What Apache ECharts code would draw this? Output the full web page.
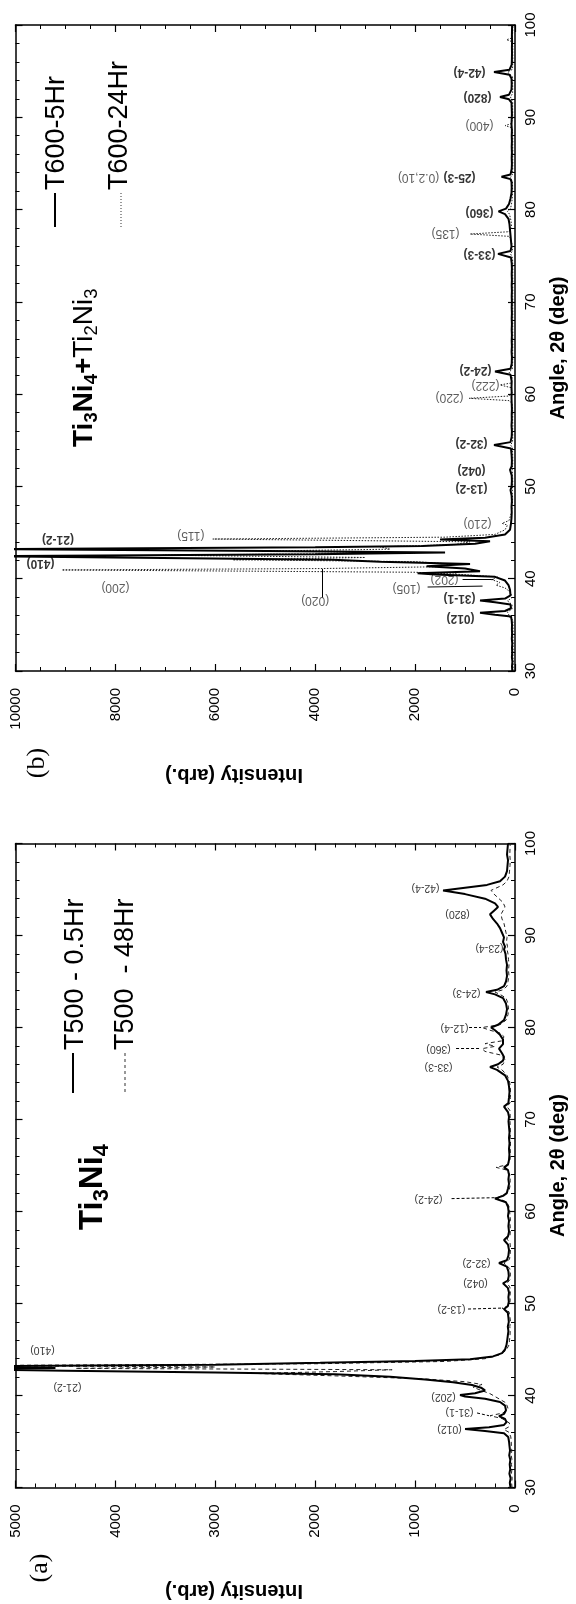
<!DOCTYPE html>
<html>
<head>
<meta charset="utf-8">
<script src="https://cdn.jsdelivr.net/npm/echarts@6/dist/echarts.min.js"></script>
<style>
  html, body { margin: 0; padding: 0; background: #fff; }
  #chart { width: 576px; height: 1604px; }
</style>
</head>
<body>
<div id="chart"></div>
<script>
// XRD patterns, [angle 2θ, intensity]. Figure is drawn rotated 90° CCW like the source scan.
const t500_05 = [
  [30,45],[30.5,52],[31,44],[31.5,56],[32,48],[32.5,53],[33,47],[33.5,58],[34,50],[34.5,55],[35,60],[35.5,68],
  [35.9,110],[36.15,300],[36.35,500],[36.55,260],[36.8,110],[37.1,85],[37.45,100],[37.75,160],[38.0,110],[38.4,90],
  [38.9,100],[39.3,150],[39.65,300],[39.9,500],[40.05,550],[40.25,400],[40.55,300],[40.85,340],[41.15,430],[41.45,620],
  [41.75,900],[42.05,1250],[42.3,1800],[42.5,3000],[42.7,4500],[42.85,5600],[43.0,4600],[43.15,5600],[43.35,3000],
  [43.55,1950],[43.75,1000],[43.95,450],[44.25,220],[44.6,130],[45,100],[45.5,85],[46,78],[46.5,72],[47,66],[47.5,72],
  [48,62],[48.5,66],[49,72],[49.4,110],[49.7,72],[50.2,62],[50.7,66],[51.2,60],[51.7,72],[52.2,120],[52.5,72],[53,62],
  [53.5,66],[54,82],[54.4,160],[54.7,82],[55.2,66],[55.8,60],[56.4,70],[56.9,110],[57.3,70],[57.8,60],[58.4,66],[59,60],
  [59.5,70],[60,64],[60.5,70],[61,90],[61.4,200],[61.7,120],[62,82],[62.5,70],[63,60],[63.5,66],[64,60],[64.5,70],
  [64.8,110],[65.1,70],[65.6,60],[66.2,56],[66.8,60],[67.4,55],[68,60],[68.6,55],[69.2,60],[69.8,65],[70.3,60],[70.8,70],
  [71.4,110],[71.8,66],[72.4,60],[73,55],[73.6,60],[74.2,70],[74.8,100],[75.4,180],[75.7,250],[76.0,170],[76.4,120],
  [76.8,110],[77.2,130],[77.7,160],[78.2,120],[78.7,120],[79.2,150],[79.7,200],[80.0,240],[80.3,170],[80.8,110],[81.4,90],
  [82,80],[82.6,90],[83.2,120],[83.6,200],[83.85,290],[84.1,180],[84.5,110],[85,90],[85.6,80],[86.2,85],[86.8,80],
  [87.4,90],[88,95],[88.5,110],[88.8,100],[89.3,120],[89.8,110],[90.3,130],[90.8,150],[91.3,180],[91.8,220],[92.3,250],
  [92.7,210],[93.1,170],[93.5,200],[94,300],[94.5,500],[94.9,720],[95.2,500],[95.5,280],[95.9,150],[96.4,100],[97,80],
  [97.6,75],[98.2,70],[98.8,80],[99.4,75],[100,70]
];
const t500_48 = [
  [30,30],[30.5,34],[31,28],[31.5,36],[32,30],[32.5,35],[33,30],[33.5,38],[34,32],[34.5,36],[35,38],[35.5,42],
  [36.0,60],[36.3,110],[36.6,60],[37.0,55],[37.5,130],[37.8,250],[38.1,120],[38.6,70],[39.2,90],[39.7,170],[40.2,250],
  [40.6,350],[40.9,420],[41.2,330],[41.5,500],[41.8,900],[42.1,1700],[42.4,2600],[42.6,1800],[42.8,1230],[42.95,4400],
  [43.1,3000],[43.25,5600],[43.45,2000],[43.7,700],[44.0,300],[44.4,160],[44.9,90],[45.5,60],[46,55],[46.5,50],[47,48],
  [47.5,52],[48,45],[48.5,50],[49.1,60],[49.5,130],[49.8,60],[50.3,48],[50.8,50],[51.3,46],[51.8,52],[52.2,80],[52.6,50],
  [53.2,46],[53.8,52],[54.4,110],[54.8,55],[55.4,48],[56,45],[56.6,50],[57,80],[57.4,50],[58,46],[58.6,50],[59.2,46],
  [59.8,52],[60.4,55],[61.0,80],[61.3,140],[61.5,195],[61.8,100],[62.2,60],[62.8,50],[63.4,48],[64,52],[64.5,80],
  [64.8,190],[65.1,70],[65.6,50],[66.2,46],[66.8,48],[67.4,45],[68,48],[68.6,46],[69.2,48],[69.8,50],[70.4,48],[71,52],
  [71.4,80],[71.8,50],[72.4,46],[73,45],[73.6,48],[74.2,55],[74.8,80],[75.4,130],[75.7,180],[76.0,120],[76.5,100],
  [77.0,140],[77.4,300],[77.7,330],[77.95,200],[78.25,300],[78.55,130],[79.0,110],[79.4,150],[79.7,250],[80.0,330],
  [80.3,150],[80.8,90],[81.4,70],[82,65],[82.6,70],[83.2,90],[83.6,150],[83.85,200],[84.1,120],[84.5,80],[85,70],
  [85.6,60],[86.2,65],[86.8,60],[87.4,65],[88,70],[88.5,80],[88.8,75],[89.3,85],[89.8,80],[90.3,90],[90.8,100],[91.3,110],
  [91.8,130],[92.3,140],[92.7,120],[93.1,100],[93.6,120],[94.1,170],[94.5,210],[94.9,240],[95.2,180],[95.5,120],
  [95.9,80],[96.4,60],[97,55],[97.6,50],[98.2,48],[98.8,52],[99.4,50],[100,48]
];
const t600_5 = [
  [30,55],[30.5,60],[31,52],[31.5,62],[32,56],[32.5,60],[33,55],[33.5,64],[34,58],[34.5,62],[35,60],[35.5,66],
  [35.9,80],[36.1,400],[36.3,700],[36.5,200],[36.8,80],[37.2,90],[37.45,400],[37.65,700],[37.85,200],[38.2,90],[38.8,100],
  [39.3,130],[39.8,200],[40.2,400],[40.45,1600],[40.6,1950],[40.8,700],[41.1,1000],[41.35,1770],[41.6,900],[41.85,2700],
  [42.05,3650],[42.25,7050],[42.45,10600],[42.65,4000],[42.85,1400],[43.0,4970],[43.2,10600],[43.4,4000],[43.55,1850],
  [43.8,800],[44.05,500],[44.25,1500],[44.45,600],[44.8,200],[45.3,100],[46,80],[46.6,70],[47.2,65],[47.8,70],[48.4,62],
  [49,68],[49.6,90],[50,68],[50.6,62],[51.2,66],[51.8,100],[52.2,66],[52.8,62],[53.4,68],[54.1,80],[54.5,420],[54.8,90],
  [55.4,66],[56,62],[56.6,70],[57.2,64],[57.8,66],[58.4,62],[59,66],[59.6,70],[60.2,66],[60.8,70],[61.4,66],[62.1,90],
  [62.45,400],[62.75,90],[63.3,66],[64,62],[64.6,68],[65.2,62],[65.8,66],[66.4,62],[67,66],[67.6,62],[68.2,66],[68.8,62],
  [69.4,66],[70,62],[70.6,66],[71.2,62],[71.8,66],[72.4,62],[73,66],[73.6,62],[74.2,66],[74.8,80],[75.2,340],[75.5,90],
  [76,70],[76.6,80],[77.2,90],[77.8,100],[78.4,110],[79.0,130],[79.5,200],[79.8,330],[80.1,180],[80.6,120],[81.2,90],
  [81.8,70],[82.4,66],[83,70],[83.3,90],[83.55,270],[83.8,90],[84.4,66],[85,62],[85.6,66],[86.2,62],[86.8,66],[87.4,62],
  [88,66],[88.6,62],[89.2,70],[89.8,66],[90.4,62],[91,66],[91.6,70],[91.95,120],[92.2,300],[92.45,120],[93,70],[93.6,66],
  [94.2,70],[94.6,110],[94.9,420],[95.15,110],[95.7,66],[96.3,62],[97,60],[97.6,62],[98.2,58],[98.8,62],[99.4,60],[100,58]
];
const t600_24 = [
  [30,35],[30.5,40],[31,34],[31.5,42],[32,36],[32.5,40],[33,35],[33.5,42],[34,38],[34.5,40],[35,40],[35.5,44],
  [35.8,100],[36.0,60],[36.4,150],[36.7,60],[37.2,60],[37.6,150],[37.9,70],[38.5,80],[39.0,200],[39.3,380],[39.6,300],
  [39.9,470],[40.2,350],[40.5,1200],[40.7,2000],[40.95,9070],[41.1,3900],[41.3,1500],[41.6,1300],[41.85,2000],
  [42.05,5650],[42.3,3000],[42.55,7050],[42.8,2000],[43.0,4970],[43.2,2500],[43.45,2700],[43.7,1200],[44.0,900],
  [44.3,6050],[44.5,1400],[44.8,400],[45.3,200],[45.8,150],[46.0,260],[46.3,120],[47,80],[47.6,60],[48.2,50],[48.8,48],
  [49.4,55],[50,48],[50.6,45],[51.2,50],[51.8,55],[52.4,46],[53,45],[53.6,48],[54.2,50],[54.5,90],[54.8,50],[55.4,45],
  [56,48],[56.6,44],[57.2,48],[57.8,45],[58.4,48],[59.0,60],[59.3,120],[59.55,920],[59.8,110],[60.2,60],[60.7,80],
  [61.0,300],[61.2,80],[61.8,55],[62.4,120],[62.7,55],[63.3,48],[64,45],[64.6,48],[65.2,44],[65.8,46],[66.4,44],[67,46],
  [67.6,44],[68.2,46],[68.8,44],[69.4,46],[70,44],[70.6,46],[71.2,44],[71.8,46],[72.4,44],[73,46],[73.6,44],[74.2,46],
  [74.8,50],[75.2,90],[75.5,50],[76.2,60],[76.8,80],[77.1,120],[77.35,900],[77.6,120],[78.2,70],[78.8,80],[79.5,110],
  [79.8,150],[80.1,90],[80.6,70],[81.2,55],[81.8,50],[82.4,48],[83,50],[83.5,90],[83.8,50],[84.4,46],[85,44],[85.6,46],
  [86.2,44],[86.8,46],[87.4,44],[88,46],[88.6,50],[88.9,80],[89.1,200],[89.3,80],[89.8,50],[90.4,46],[91,48],[91.6,46],
  [92.2,90],[92.6,48],[93.2,46],[93.8,48],[94.4,50],[94.9,150],[95.2,50],[95.8,46],[96.4,44],[97,46],[97.6,44],[98.2,60],
  [98.4,170],[98.6,60],[99.2,46],[100,44]
];

// peak labels: [text, angle, intensity at label centre]
const labelsA = [
  ['(42-4)',95.2,895],['(820)',92.3,575],['(23-4)',88.7,255],['(24-3)',83.8,485],['(12-4)',80.0,605],
  ['(360)',77.7,765],['(33-3)',75.7,765],['(24-2)',61.4,865],['(32-2)',54.4,385],['(042)',52.2,395],
  ['(13-2)',49.4,635],['(410)',45.0,4730],['(21-2)',40.9,4480],['(202)',39.9,715],['(31-1)',38.2,555],['(012)',36.4,655]
];
const boldLabelsB = [
  ['(012)',35.7,1090],['(31-1)',37.9,1110],['(410)',41.7,9500],['(21-2)',44.3,9150],['(13-2)',49.8,870],
  ['(042)',51.8,870],['(32-2)',54.7,870],['(24-2)',62.6,790],['(33-3)',75.2,710],['(360)',79.7,710],
  ['(25-3)',83.5,1110],['(820)',92.2,750],['(42-4)',94.9,910]
];
const lightLabelsB = [
  ['(200)',39.1,8000],['(020)',37.7,4000],['(105)',39.0,2170],['(115)',44.7,6490],['(210)',46.0,750],
  ['(220)',59.65,1310],['(222)',60.95,590],['(135)',77.4,1390],['(0.2,10)',83.5,1930],['(400)',89.1,710],['(202)',39.9,1410]
];
// leader lines: [angle1, intensity1, angle2, intensity2]
const leadersA = [[80.0,460,80.0,340],[77.7,590,77.7,340],[61.4,635,61.5,200],[49.4,470,49.5,135],[38.1,380,37.8,260]];
const leadersB = [[39.1,1750,39.2,650],[37.95,3850,41.05,3850],[39.9,1050,39.9,430]];

const FONT = 'Liberation Sans';
const xy = arr => arr.map(p => [p[1], p[0]]);

function xAx(g, max, step, minor, pos, labels) {
  return {
    type: 'value', gridIndex: g, min: 0, max: max, interval: step, inverse: true, position: pos,
    axisLine: { onZero: false, lineStyle: { color: '#000', width: 1.5 } },
    axisTick: { inside: true, length: 7, lineStyle: { color: '#000', width: 1.2 } },
    minorTick: { show: true, splitNumber: minor, length: 4, lineStyle: { color: '#000', width: 1 } },
    splitLine: { show: false },
    axisLabel: { show: labels, rotate: 90, margin: 17, fontFamily: FONT, fontSize: 15, color: '#000',
      formatter: v => String(v) }
  };
}
function yAx(g, pos, labels, name) {
  return {
    type: 'value', gridIndex: g, min: 30, max: 100, interval: 10, position: pos,
    axisLine: { onZero: false, lineStyle: { color: '#000', width: 1.5 } },
    axisTick: { inside: true, length: 7, lineStyle: { color: '#000', width: 1.2 } },
    minorTick: { show: true, splitNumber: 5, length: 4, lineStyle: { color: '#000', width: 1 } },
    splitLine: { show: false },
    axisLabel: { show: labels, rotate: 90, margin: 8, fontFamily: FONT, fontSize: 15, color: '#000' },
    name: name || '', nameLocation: 'middle', nameGap: 33, nameRotate: 90,
    nameTextStyle: { fontFamily: FONT, fontSize: 20, fontWeight: 'bold', color: '#000' }
  };
}
function curve(ax, data, style) {
  return { type: 'line', xAxisIndex: ax, yAxisIndex: ax, data: xy(data), showSymbol: false,
    symbol: 'none', lineStyle: style, clip: true, silent: true };
}
function tags(ax, list, fontSize, weight, color) {
  return { type: 'scatter', xAxisIndex: ax, yAxisIndex: ax, symbolSize: 1, silent: true,
    itemStyle: { color: 'rgba(0,0,0,0)' },
    data: list.map(l => ({ name: l[0], value: [l[2], l[1]] })),
    label: { show: true, position: 'inside', rotate: 180, formatter: '{b}', fontFamily: FONT,
      fontSize: fontSize, fontWeight: weight, color: color } };
}
function leaders(ax, list, type) {
  return { type: 'lines', coordinateSystem: 'cartesian2d', xAxisIndex: ax, yAxisIndex: ax, silent: true,
    data: list.map(l => ({ coords: [[l[1], l[0]], [l[3], l[2]]] })),
    lineStyle: { color: '#000', width: 1, type: type, opacity: 1 } };
}
// text turned with the figure: rot = PI/2 reads bottom-to-top, PI is upside down
function rtext(x, y, rot, style) {
  return { type: 'text', x: x, y: y, rotation: rot,
    style: Object.assign({ fill: '#000', align: 'left', verticalAlign: 'middle' }, style) };
}
const subRich = (size, sub, weight, lh, slh) => ({
  fontFamily: FONT, fontSize: sub ? size * 0.66 : size, fontWeight: weight,
  lineHeight: sub ? slh : lh, verticalAlign: sub ? 'bottom' : 'middle'
});

const chart = echarts.init(document.getElementById('chart'), null, { renderer: 'canvas' });
chart.setOption({
  backgroundColor: '#fff',
  animation: false,
  grid: [
    { left: 15.5, top: 843.5, width: 500, height: 644 },
    { left: 15.5, top: 25, width: 500, height: 646 }
  ],
  // 0/2 = plotted axes, 1/3 = mirrored frame axes
  xAxis: [
    xAx(0, 5000, 1000, 5, 'bottom', true),
    xAx(0, 5000, 1000, 5, 'top', false),
    xAx(1, 10000, 2000, 4, 'bottom', true),
    xAx(1, 10000, 2000, 4, 'top', false)
  ],
  yAxis: [
    yAx(0, 'right', true, 'Angle, 2\u03b8 (deg)'),
    yAx(0, 'left', false),
    yAx(1, 'right', true, 'Angle, 2\u03b8 (deg)'),
    yAx(1, 'left', false)
  ],
  series: [
    curve(0, t500_48, { color: '#222', width: 1, type: [4, 3] }),
    curve(0, t500_05, { color: '#000', width: 2 }),
    leaders(0, leadersA, [3, 2]),
    tags(0, labelsA, 10.5, 'normal', '#000'),
    curve(2, t600_24, { color: '#222', width: 1, type: [1.5, 1.5] }),
    curve(2, t600_5, { color: '#000', width: 2 }),
    leaders(2, leadersB, 'solid'),
    tags(2, boldLabelsB, 12, 'bold', '#000'),
    tags(2, lightLabelsB, 12, 'normal', '#333')
  ],
  graphic: [
    // panel (a)
    { type: 'line', shape: { x1: 73, y1: 1053, x2: 73, y2: 1093 }, style: { stroke: '#000', lineWidth: 2 } },
    rtext(76, 1050, Math.PI / 2, { text: 'T500 - 0.5Hr', font: '27px Liberation Sans' }),
    { type: 'line', shape: { x1: 125, y1: 1053, x2: 125, y2: 1093 }, style: { stroke: '#333', lineWidth: 1, lineDash: [3, 3] } },
    rtext(126, 1050, Math.PI / 2, { text: 'T500  - 48Hr', font: '27px Liberation Sans' }),
    rtext(93, 1230, Math.PI / 2, { text: '{b|Ti}{s|3}{b|Ni}{s|4}',
      rich: { b: subRich(33, false, 'bold', 40, 14), s: subRich(33, true, 'bold', 40, 14) } }),
    rtext(40, 1568, Math.PI / 2, { text: '(a)', font: '26px Liberation Serif', align: 'center' }),
    rtext(234, 1591, Math.PI, { text: 'Intensity (arb.)', font: 'bold 20px Liberation Sans', align: 'center' }),
    // panel (b)
    { type: 'line', shape: { x1: 55, y1: 193, x2: 55, y2: 227 }, style: { stroke: '#000', lineWidth: 2 } },
    rtext(57, 190, Math.PI / 2, { text: 'T600-5Hr', font: '27px Liberation Sans' }),
    { type: 'line', shape: { x1: 121, y1: 193, x2: 121, y2: 227 }, style: { stroke: '#333', lineWidth: 1, lineDash: [1, 2] } },
    rtext(120, 190, Math.PI / 2, { text: 'T600-24Hr', font: '27px Liberation Sans' }),
    rtext(84, 447, Math.PI / 2, { text: '{b|Ti}{s|3}{b|Ni}{s|4}{b|+}{r|Ti}{rs|2}{r|Ni}{rs|3}',
      rich: { b: subRich(28, false, 'bold', 34, 12), s: subRich(28, true, 'bold', 34, 12),
              r: subRich(28, false, 'normal', 34, 12), rs: subRich(28, true, 'normal', 34, 12) } }),
    rtext(37, 763, Math.PI / 2, { text: '(b)', font: '26px Liberation Serif', align: 'center' }),
    rtext(234, 775, Math.PI, { text: 'Intensity (arb.)', font: 'bold 20px Liberation Sans', align: 'center' })
  ]
});
</script>
</body>
</html>
